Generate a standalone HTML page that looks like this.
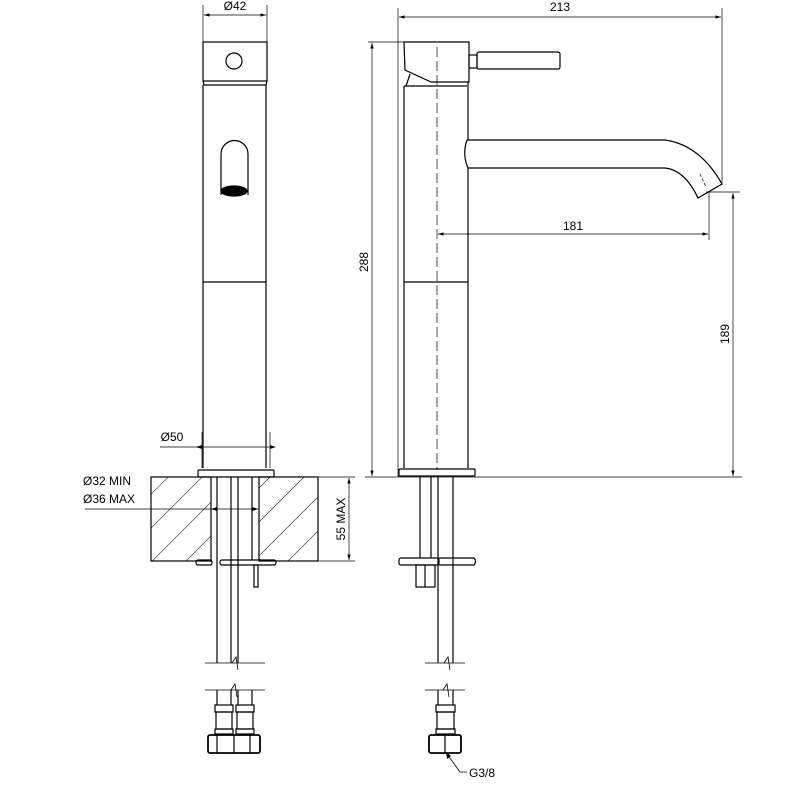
<!DOCTYPE html>
<html><head><style>body{margin:0;background:#fff}svg{display:block}</style></head><body>
<svg width="790" height="790" viewBox="0 0 790 790" xmlns="http://www.w3.org/2000/svg" font-family="Liberation Sans, sans-serif" font-size="12">
<defs>
<pattern id="h" patternUnits="userSpaceOnUse" width="24" height="24" patternTransform="rotate(45)">
<line x1="0" y1="0" x2="0" y2="24" stroke="#000" stroke-width="1"/></pattern>
<marker id="a" viewBox="0 0 10 6" refX="10" refY="3" markerWidth="8" markerHeight="5" orient="auto-start-reverse"><path d="M0,0L10,3L0,6z" fill="#000"/></marker>
</defs>
<g fill="none" stroke="#000" stroke-width="1.2">
<line x1="203" y1="5" x2="203" y2="42" stroke-width="0.7"/><line x1="267" y1="5" x2="267" y2="42" stroke-width="0.7"/>
<line x1="204" y1="15" x2="266" y2="15" stroke-width="0.7" marker-start="url(#a)" marker-end="url(#a)"/>
<rect x="203" y="42" width="64" height="39"/>
<circle cx="234" cy="61" r="8"/>
<path d="M203,81 L204,85 L266,85 L267,81"/>
<line x1="203" y1="85" x2="203" y2="468"/><line x1="266" y1="85" x2="266" y2="468"/>
<line x1="203" y1="282" x2="266" y2="282"/>
<path d="M221,195 L221,154 A13.5,13.5 0 0 1 248,154 L248,195"/>
<ellipse cx="234" cy="191" rx="13" ry="5" fill="#000"/>
<line x1="202" y1="432" x2="202" y2="468" stroke-width="0.7"/><line x1="270" y1="432" x2="270" y2="468" stroke-width="0.7"/>
<line x1="160" y1="447" x2="270" y2="447" stroke-width="0.7"/>
<path d="M196,447l6,-2v4z M276,447l-6,-2v4z" fill="#000" stroke="none"/>
<rect x="198" y="470" width="76" height="7" rx="1"/>
<rect x="151" y="477" width="60" height="84" fill="url(#h)"/>
<rect x="259" y="477" width="59" height="84" fill="url(#h)"/>
<line x1="318" y1="477" x2="355" y2="477" stroke-width="0.7"/><line x1="318" y1="561" x2="355" y2="561" stroke-width="0.7"/>
<line x1="349" y1="478" x2="349" y2="560" stroke-width="0.7" marker-start="url(#a)" marker-end="url(#a)"/>
<line x1="85" y1="509" x2="258" y2="509" stroke-width="0.7"/>
<path d="M211,509l6,-2v4z M258,509l-6,-2v4z" fill="#000" stroke="none"/>
<line x1="217" y1="477" x2="217" y2="663"/><line x1="231" y1="477" x2="231" y2="663"/>
<line x1="238" y1="477" x2="238" y2="663"/><line x1="252" y1="477" x2="252" y2="560"/>
<rect x="196" y="560" width="16" height="5" rx="2"/><rect x="220" y="560" width="56" height="5" rx="2"/>
<rect x="254" y="565" width="4" height="22"/>
<line x1="205" y1="663" x2="265" y2="663" stroke-width="0.8"/>
<path d="M232,663 l4,-6 l2,13" stroke-width="0.8"/>
<line x1="205" y1="690" x2="265" y2="690" stroke-width="0.8"/>
<path d="M231,690 l4,-6 l2,13" stroke-width="0.8"/>
<line x1="217" y1="690" x2="217" y2="705"/><line x1="231" y1="690" x2="231" y2="705"/>
<line x1="238" y1="690" x2="238" y2="705"/><line x1="252" y1="690" x2="252" y2="705"/>
<rect x="215" y="705" width="18" height="7"/><rect x="236" y="705" width="18" height="7"/>
<rect x="216" y="712" width="16" height="17"/><rect x="237" y="712" width="16" height="17"/>
<rect x="215" y="729" width="18" height="5"/><rect x="236" y="729" width="18" height="5"/>
<rect x="208" y="735" width="52" height="18" rx="2" stroke-width="1.8"/>
<line x1="217" y1="735" x2="217" y2="753"/><line x1="234" y1="735" x2="234" y2="753"/><line x1="250" y1="735" x2="250" y2="753"/>
<line x1="398" y1="8" x2="398" y2="477" stroke-width="0.7"/><line x1="722" y1="8" x2="722" y2="185" stroke-width="0.7"/>
<line x1="399" y1="17" x2="721" y2="17" stroke-width="0.7" marker-start="url(#a)" marker-end="url(#a)"/>
<line x1="368" y1="42" x2="404" y2="42" stroke-width="0.7"/>
<line x1="372" y1="43" x2="372" y2="476" stroke-width="0.7" marker-start="url(#a)" marker-end="url(#a)"/>
<path d="M404,42 L469,42 L469,82 L431,82 L405,70 Z"/>
<path d="M410,74 L406,86"/>
<rect x="469" y="55" width="8" height="13"/>
<rect x="477" y="52" width="83" height="17" rx="2"/>
<line x1="404" y1="86" x2="467" y2="86"/>
<line x1="404" y1="86" x2="404" y2="468"/><line x1="468" y1="82" x2="468" y2="140"/><line x1="468" y1="168" x2="468" y2="468"/>
<line x1="404" y1="282" x2="468" y2="282"/>
<line x1="437" y1="47" x2="437" y2="470" stroke-width="0.7" stroke-dasharray="10,4"/>
<path d="M467,140 L665,140 Q700,145 722,184 L698,198 Q685,170 665,168 L468,168 Q462,154 467,140"/>
<line x1="700" y1="174" x2="706" y2="187" stroke-width="0.7" stroke-dasharray="3,2"/>
<line x1="709" y1="192" x2="709" y2="240" stroke-width="0.7"/>
<line x1="706" y1="192" x2="740" y2="192" stroke-width="0.7"/>
<line x1="438" y1="234" x2="708" y2="234" stroke-width="0.7" marker-start="url(#a)" marker-end="url(#a)"/>
<line x1="733" y1="193" x2="733" y2="476" stroke-width="0.7" marker-start="url(#a)" marker-end="url(#a)"/>
<line x1="365" y1="477" x2="742" y2="477" stroke-width="0.7"/>
<rect x="399" y="469" width="76" height="7" rx="1"/>
<line x1="420" y1="477" x2="420" y2="558"/><line x1="431" y1="477" x2="431" y2="558"/>
<line x1="438" y1="477" x2="438" y2="663"/><line x1="453" y1="477" x2="453" y2="663"/>
<rect x="399" y="558" width="40" height="7" rx="2"/><path d="M439,558 L474,558 Q477,561 474,565 L439,565"/>
<rect x="416" y="565" width="19" height="22"/><line x1="425" y1="565" x2="425" y2="587"/>
<line x1="425" y1="663" x2="465" y2="663" stroke-width="0.8"/>
<path d="M444,663 l4,-6 l2,13" stroke-width="0.8"/>
<line x1="425" y1="690" x2="465" y2="690" stroke-width="0.8"/>
<path d="M443,690 l4,-6 l2,13" stroke-width="0.8"/>
<line x1="438" y1="690" x2="438" y2="705"/><line x1="453" y1="690" x2="453" y2="705"/>
<rect x="436" y="705" width="19" height="7"/><rect x="437" y="712" width="17" height="17"/><rect x="436" y="729" width="19" height="5"/>
<rect x="429" y="735" width="32" height="18" rx="2" stroke-width="1.8"/>
<line x1="445" y1="735" x2="445" y2="753"/>
<path d="M447,754 L460,772 L467,772" stroke-width="0.8"/>
<path d="M446,752 l1,7 l4,-3z" fill="#000" stroke="none"/>
</g>
<g fill="#000" stroke="none">
<text x="235" y="10" text-anchor="middle">Ø42</text>
<text x="172" y="441" text-anchor="middle">Ø50</text>
<text x="83" y="485">Ø32 MIN</text>
<text x="83" y="503">Ø36 MAX</text>
<text transform="translate(345,519) rotate(-90)" text-anchor="middle">55 MAX</text>
<text x="560" y="11" text-anchor="middle">213</text>
<text transform="translate(368,262) rotate(-90)" text-anchor="middle">288</text>
<text x="573" y="230" text-anchor="middle">181</text>
<text transform="translate(729,334) rotate(-90)" text-anchor="middle">189</text>
<text x="469" y="777">G3/8</text>
</g>
</svg>
</body></html>
